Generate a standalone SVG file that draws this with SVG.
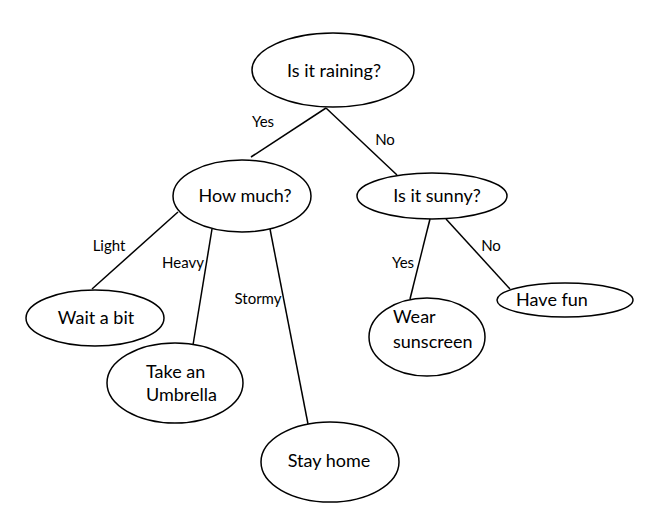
<svg xmlns="http://www.w3.org/2000/svg" width="649" height="529" viewBox="0 0 649 529">
<style>
.node{fill:#fff;stroke:#000;stroke-width:1.5}
.t{font-family:Lato,"Open Sans","Liberation Sans",sans-serif;font-size:18px;fill:#000}
.l{font-family:Lato,"Open Sans","Liberation Sans",sans-serif;font-size:15px;fill:#000}
.c{stroke:#000;stroke-width:1.5;fill:none}
</style>
<rect width="649" height="529" fill="#fff"/>
<g id="connectors">
<line class="c" x1="326" y1="108" x2="251" y2="157"/>
<line class="c" x1="326" y1="108" x2="397" y2="175"/>
<line class="c" x1="178" y1="212" x2="92" y2="289"/>
<line class="c" x1="212" y1="229" x2="193" y2="345"/>
<line class="c" x1="270" y1="229" x2="308" y2="424"/>
<line class="c" x1="430" y1="219" x2="410" y2="299"/>
<line class="c" x1="446" y1="219" x2="510" y2="289"/>
<text class="l" x="263" y="127" text-anchor="middle">Yes</text>
<text class="l" x="385" y="145" text-anchor="middle">No</text>
<text class="l" x="109" y="251" text-anchor="middle">Light</text>
<text class="l" x="183" y="268" text-anchor="middle">Heavy</text>
<text class="l" x="258" y="304" text-anchor="middle">Stormy</text>
<text class="l" x="403" y="268" text-anchor="middle">Yes</text>
<text class="l" x="491" y="251" text-anchor="middle">No</text>
</g>
<g id="raining">
<ellipse class="node" cx="333" cy="70" rx="81" ry="37"/>
<text class="t" x="334" y="77" text-anchor="middle">Is it raining?</text>
</g>
<g id="howmuch">
<ellipse class="node" cx="242" cy="196" rx="69" ry="36"/>
<text class="t" x="245" y="202" text-anchor="middle">How much?</text>
</g>
<g id="sunny">
<ellipse class="node" cx="432" cy="196" rx="75" ry="23"/>
<text class="t" x="437" y="202" text-anchor="middle">Is it sunny?</text>
</g>
<g id="wait">
<ellipse class="node" cx="95" cy="318" rx="69" ry="28"/>
<text class="t" x="96" y="324" text-anchor="middle">Wait a bit</text>
</g>
<g id="umbrella">
<ellipse class="node" cx="175" cy="383" rx="68" ry="40"/>
<text class="t" x="146" y="378">Take an</text>
<text class="t" x="146" y="401">Umbrella</text>
</g>
<g id="stayhome">
<ellipse class="node" cx="330" cy="462" rx="69" ry="40"/>
<text class="t" x="329" y="467" text-anchor="middle">Stay home</text>
</g>
<g id="sunscreen">
<ellipse class="node" cx="427" cy="337" rx="58" ry="39"/>
<text class="t" x="393" y="323">Wear</text>
<text class="t" x="393" y="348">sunscreen</text>
</g>
<g id="havefun">
<ellipse class="node" cx="565" cy="300" rx="68" ry="17"/>
<text class="t" x="552" y="306" text-anchor="middle">Have fun</text>
</g>
</svg>
